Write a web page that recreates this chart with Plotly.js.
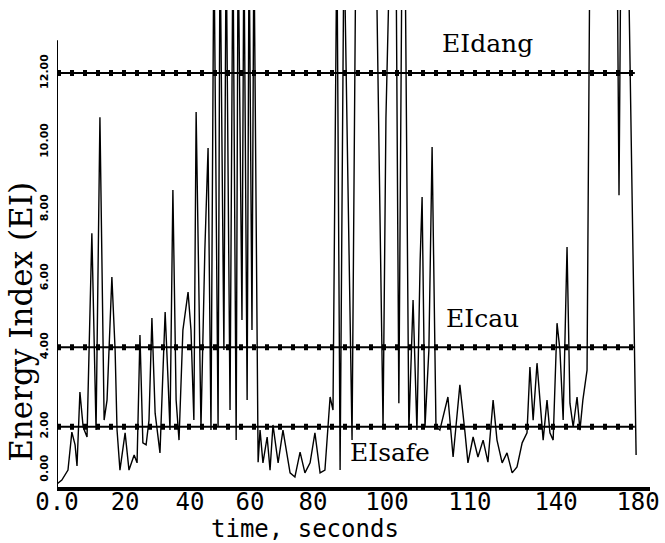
<!DOCTYPE html>
<html>
<head>
<meta charset="utf-8">
<script src="https://cdn.plot.ly/plotly-3.0.1.min.js"></script>
<style>html,body{margin:0;padding:0;background:#fff;}#chart{width:665px;height:543px;}</style>
</head>
<body>
<div id="chart"></div>
<script>
// Energy index trace (values above the top edge run off the chart)
const timeSec = [0,1.5,3.4,4.6,5.6,6.2,7.1,8.1,9.3,10.8,12.1,13.3,14.6,15.5,17.0,18.0,18.6,19.5,21.1,22.3,23.9,24.8,25.7,26.6,27.6,28.5,29.4,30.4,31.9,33.5,34.4,35.0,35.9,36.9,37.8,39.0,40.6,41.5,42.4,43.1,44.0,44.6,45.8,46.8,47.7,
  48.6,49.9,50.5,51.7,52.4,53.6,54.5,55.5,56.1,57.3,57.9,58.9,59.5,60.4,61.0,62.3,62.9,63.8,65.1,66.0,66.9,68.5,70.0,72.2,73.7,75.3,76.8,78.4,79.9,81.5,83.0,84.6,85.5,
  86.7,87.7,88.9,91.4,92.6,98.8,101.0,101.9,103.2,105.0,105.9,106.9,107.8,109.0,110.3,111.5,112.5,113.1,114.0,115.2,116.2,117.4,118.6,121.1,122.7,124.8,126.4,127.3,128.9,130.4,132.0,133.5,135.1,136.3,137.9,139.4,141.0,142.5,144.1,145.6,146.5,147.5,148.7,149.6,150.6,151.8,152.7,153.7,154.9,155.8,156.8,158.0,158.9,159.9,161.1,162.0,162.9,164.2,
  165.1,173.5,174.1,174.7,176.9,179.4];
const energyIndex = [0.09,0.2,0.49,1.59,1.22,0.61,2.75,1.74,1.45,7.36,1.65,10.72,1.94,2.52,6.09,3.97,1.65,0.49,1.57,0.49,0.93,0.70,4.41,1.28,1.22,1.94,4.90,2.14,0.99,5.07,3.10,1.65,8.61,2.52,1.36,4.55,5.65,4.55,1.94,10.87,5.42,1.74,6.87,9.83,1.65,
  16,1.74,16,3.97,16,2.23,16,1.36,16,4.84,16,2.52,16,4.55,16,0.72,1.65,0.70,1.45,0.49,1.80,0.70,1.65,0.41,0.29,1.01,0.41,0.70,1.57,0.41,0.49,2.61,2.23,
  16,0.49,16,1.36,16,16,1.74,10.70,16,16,2.43,16,16,1.65,5.42,1.65,6.58,8.41,1.74,3.97,9.86,1.74,1.65,2.61,0.87,2.96,1.57,0.70,1.45,0.87,1.36,0.72,2.52,1.36,0.70,0.99,0.41,0.58,1.28,1.57,3.48,1.94,3.59,2.43,1.36,2.52,1.57,1.36,4.75,3.97,1.94,6.96,2.43,1.74,2.61,1.65,2.52,3.39,
  16,16,8.46,16,16,0.93];

// Threshold levels (as drawn) and their names
const thresholdNames = ["EIsafe","EIcau","EIdang"];
const thresholdValues = [1.75, 4.05, 12];
const thresholdSpan = [0, 179];

// Axis tick positions and printed labels
const xTickPos = [0, 21.1, 41.2, 59.8, 79.3, 102.2, 127.9, 154.6, 180];
const xTickText = ["0.0","20","40","60","80","100","110","140","180"];
const yTickPos = [0.5, 1.75, 4.05, 6.05, 8.05, 10, 12];
const yTickText = ["0.00","2.00","4.00","6.00","8.00","10.00","12.00"];

const traces = [];
thresholdValues.forEach(v => {
  traces.push({x: thresholdSpan, y: [v, v], mode: 'lines', line: {color: '#000', width: 2}, hoverinfo: 'skip', showlegend: false});
  traces.push({x: thresholdSpan, y: [v, v], mode: 'lines', line: {color: '#000', width: 6, dash: '4px,9px'}, hoverinfo: 'skip', showlegend: false});
});
traces.push({x: timeSec, y: energyIndex, mode: 'lines', line: {color: '#000', width: 1.4}, showlegend: false});

const labelPos = {EIdang: [133.5, 12.87], EIcau: [131.7, 4.9], EIsafe: [103.2, 0.99]};
const annotations = thresholdNames.map(n => ({
  x: labelPos[n][0], y: labelPos[n][1], xref: 'x', yref: 'y', text: n, showarrow: false,
  font: {family: 'DejaVu Serif', size: 25, color: '#000'}
}));
annotations.push({x: 0.418, y: -0.0885, xref: 'paper', yref: 'paper', text: 'time, seconds', showarrow: false,
  xanchor: 'center', yanchor: 'middle',
  font: {family: 'DejaVu Sans Mono', size: 24, color: '#000'}});
annotations.push({x: -0.061, y: 0.346, xref: 'paper', yref: 'paper', text: 'Energy Index (EI)', showarrow: false,
  xanchor: 'center', yanchor: 'middle',
  textangle: -90, font: {family: 'DejaVu Serif', size: 31, color: '#000'}});

const layout = {
  width: 665, height: 543,
  margin: {l: 57, r: 15, t: 10, b: 56},
  paper_bgcolor: '#fff', plot_bgcolor: '#fff',
  xaxis: {range: [0, 183.7], showline: true, linewidth: 4, linecolor: '#000', ticks: '', showgrid: false, zeroline: false,
    tickmode: 'array', tickvals: xTickPos, ticktext: xTickText, ticklabelstandoff: -10,
    tickfont: {family: 'DejaVu Sans Mono', size: 24, color: '#000'}},
  yaxis: {range: [0, 13.83], showline: false, ticks: '', showgrid: false, zeroline: false,
    tickmode: 'array', tickvals: yTickPos, ticktext: yTickText, tickangle: -90, ticklabelstandoff: 6,
    tickfont: {family: 'DejaVu Sans', size: 11, color: '#000', weight: 'bold'}},
  shapes: [{type: 'line', xref: 'x', yref: 'y', x0: 0, x1: 0, y0: 0, y1: 12.95, line: {color: '#000', width: 2}}],
  annotations: annotations
};

Plotly.newPlot('chart', traces, layout, {staticPlot: true, displayModeBar: false});
</script>
</body>
</html>
